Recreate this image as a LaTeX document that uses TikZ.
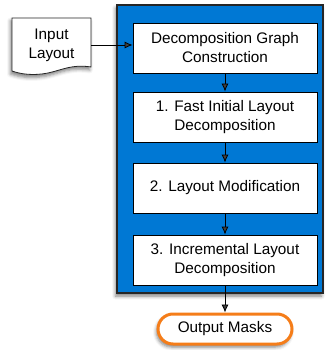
\documentclass[tikz,border=0pt]{standalone}
\usepackage{fontspec}
\setmainfont{Liberation Sans}
\usetikzlibrary{arrows.meta,shadows.blur}
\definecolor{panelblue}{RGB}{0,120,212}
\definecolor{maskorange}{RGB}{245,125,25}
\tikzset{
  stepbox/.style={draw=black, line width=0.8pt, fill=white, minimum width=184pt, minimum height=50pt, align=center, inner sep=2pt, font=\fontsize{15.3}{19}\selectfont},
  flow/.style={-{Latex[length=8pt,width=7pt]}, line width=0.8pt},
  sh/.style={blur shadow={shadow xshift=-1.5pt, shadow yshift=-3pt, shadow blur radius=3.5pt, shadow opacity=50}}
}
\begin{document}
\begin{tikzpicture}[x=1pt,y=-1pt]
\useasboundingbox (0,0) rectangle (328,350);
% blue panel
\fill[panelblue, draw=black!85, line width=1.5pt, sh] (117,5) rectangle (323,293);
% input layout document
\path[fill=white, draw=black!85, line width=0.8pt, sh]
  (12,18) -- (91,18) -- (91,67)
  .. controls (72,64) and (62,70) .. (48,73)
  .. controls (33,76) and (20,74) .. (12,71) -- cycle;
\node[minimum width=79pt, minimum height=50pt, align=center, inner sep=0pt, font=\fontsize{15.3}{19}\selectfont] (in) at (51.5,45) {Input\\Layout};
% steps
\node[stepbox] (b1) at (225,48) {Decomposition Graph\\Construction};
\node[stepbox] (b2) at (225,117) {1. Fast Initial Layout\\Decomposition};
\node[stepbox] (b3) at (225,188) {2. Layout Modification};
\node[stepbox] (b4) at (225,260) {3. Incremental Layout\\Decomposition};
% output
\node[draw=maskorange, line width=3pt, fill=white, rounded corners=15pt, minimum width=134pt, minimum height=30pt, inner sep=0pt, font=\fontsize{15.3}{19}\selectfont, sh] (out) at (225,329) {Output Masks};
% connectors
\draw[flow] (in.east) -- (b1.west |- in.east);
\draw[flow] (b1) -- (b2);
\draw[flow] (b2) -- (b3);
\draw[flow] (b3) -- (b4);
\draw[flow] (b4) -- (out);
\end{tikzpicture}
\end{document}
